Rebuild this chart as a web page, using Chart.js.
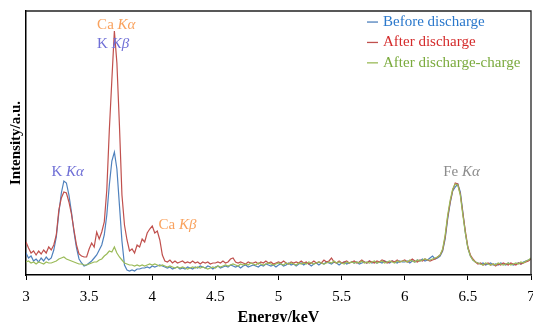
<!DOCTYPE html>
<html lang="en">
<head>
<meta charset="utf-8"/>
<title>EDS spectra</title>
<script src="https://cdn.jsdelivr.net/npm/chart.js"></script>
<style>
  html, body { margin: 0; padding: 0; background: #fff; overflow: hidden; }
  canvas { display: block; }
</style>
</head>
<body>
<canvas id="spectrum" width="533" height="327"></canvas>
<script>
  // energy grid (keV)
  const energy = [
    3.00, 3.02, 3.04, 3.06, 3.08, 3.10, 3.12, 3.14, 3.16, 3.18,
    3.20, 3.22, 3.24, 3.26, 3.28, 3.30, 3.32, 3.34, 3.36, 3.38,
    3.40, 3.42, 3.44, 3.46, 3.48, 3.50, 3.52, 3.54, 3.56, 3.58,
    3.60, 3.62, 3.64, 3.66, 3.68, 3.70, 3.72, 3.74, 3.76, 3.78,
    3.80, 3.82, 3.84, 3.86, 3.88, 3.90, 3.92, 3.94, 3.96, 3.98,
    4.00, 4.02, 4.04, 4.06, 4.08, 4.10, 4.12, 4.14, 4.16, 4.18,
    4.20, 4.22, 4.24, 4.26, 4.28, 4.30, 4.32, 4.34, 4.36, 4.38,
    4.40, 4.42, 4.44, 4.46, 4.48, 4.50, 4.52, 4.54, 4.56, 4.58,
    4.60, 4.62, 4.64, 4.66, 4.68, 4.70, 4.72, 4.74, 4.76, 4.78,
    4.80, 4.82, 4.84, 4.86, 4.88, 4.90, 4.92, 4.94, 4.96, 4.98,
    5.00, 5.02, 5.04, 5.06, 5.08, 5.10, 5.12, 5.14, 5.16, 5.18,
    5.20, 5.22, 5.24, 5.26, 5.28, 5.30, 5.32, 5.34, 5.36, 5.38,
    5.40, 5.42, 5.44, 5.46, 5.48, 5.50, 5.52, 5.54, 5.56, 5.58,
    5.60, 5.62, 5.64, 5.66, 5.68, 5.70, 5.72, 5.74, 5.76, 5.78,
    5.80, 5.82, 5.84, 5.86, 5.88, 5.90, 5.92, 5.94, 5.96, 5.98,
    6.00, 6.02, 6.04, 6.06, 6.08, 6.10, 6.12, 6.14, 6.16, 6.18,
    6.20, 6.22, 6.24, 6.26, 6.28, 6.30, 6.32, 6.34, 6.36, 6.38,
    6.40, 6.42, 6.44, 6.46, 6.48, 6.50, 6.52, 6.54, 6.56, 6.58,
    6.60, 6.62, 6.64, 6.66, 6.68, 6.70, 6.72, 6.74, 6.76, 6.78,
    6.80, 6.82, 6.84, 6.86, 6.88, 6.90, 6.92, 6.94, 6.96, 6.98,
    7.00
  ];

  const beforeDischarge = [
    22, 17, 19, 14, 16, 13, 17, 14, 18, 15,
    17, 25, 38, 62, 82, 94, 92, 80, 63, 43,
    27, 16, 12, 9, 10, 12, 14, 17, 20, 25,
    30, 40, 60, 90, 114, 123, 106, 70, 34, 10,
    5, 4, 5, 4, 6, 6, 7, 7, 8, 7,
    9, 8, 9, 10, 9, 8, 7, 8, 6, 7,
    8, 6, 7, 6, 8, 7, 6, 8, 7, 9,
    8, 7, 9, 8, 6, 8, 9, 7, 8, 9,
    8, 10, 9, 8, 9, 7, 9, 10, 8, 9,
    10, 9, 8, 10, 9, 11, 10, 9, 10, 8,
    10, 11, 9, 10, 12, 10, 11, 9, 11, 12,
    10, 12, 11, 9, 11, 12, 10, 12, 11, 13,
    12, 11, 13, 12, 10, 12, 13, 11, 12, 13,
    12, 13, 11, 12, 13, 12, 14, 12, 13, 12,
    13, 12, 14, 13, 12, 14, 13, 12, 14, 13,
    13, 14, 12, 14, 13, 15, 14, 16, 14, 15,
    17, 19, 16, 17, 19, 24, 36, 56, 72, 84,
    88, 91, 83, 63, 42, 27, 19, 15, 13, 12,
    11, 12, 10, 11, 12, 10, 11, 10, 12, 11,
    10, 12, 11, 10, 11, 12, 11, 13, 14, 15,
    16
  ];

  const afterDischarge = [
    33, 27, 22, 24, 20, 24, 21, 25, 22, 28,
    25, 30, 40, 65, 77, 83, 82, 73, 61, 45,
    30, 21, 19, 18, 18, 26, 32, 28, 43, 36,
    43, 53, 85, 145, 195, 244, 212, 150, 80, 50,
    35, 24, 26, 22, 30, 28, 36, 33, 42, 46,
    49, 42, 44, 35, 20, 14, 13, 15, 12, 14,
    12, 13, 14, 12, 13, 12, 14, 12, 13, 11,
    13, 12, 13, 11, 12, 12, 13, 12, 14, 12,
    13, 16, 17, 13, 12, 13, 12, 11, 13, 12,
    12, 13, 11, 13, 12, 14, 12, 13, 11, 12,
    13, 12, 14, 12, 11, 13, 12, 13, 12, 14,
    12, 13, 11, 12, 14, 12, 13, 12, 15, 13,
    14, 17, 13, 12, 14, 12, 13, 14, 12, 13,
    14, 12, 13, 15, 13, 12, 14, 13, 12, 14,
    13, 15, 14, 12, 13, 14, 13, 15, 13, 14,
    15, 13, 14, 16, 14, 13, 15, 14, 16, 15,
    14, 15, 16, 18, 20, 25, 38, 58, 73, 85,
    92, 91, 81, 62, 44, 28, 20, 16, 13, 11,
    12, 10, 11, 12, 10, 11, 9, 11, 10, 12,
    11, 10, 12, 11, 10, 12, 11, 12, 13, 14,
    16
  ];

  const afterCharge = [
    13, 14, 12, 13, 11, 13, 12, 11, 13, 12,
    12, 13, 14, 16, 17, 18, 16, 15, 14, 13,
    12, 11, 11, 10, 10, 11, 12, 13, 13, 15,
    16, 19, 21, 24, 23, 28, 22, 18, 15, 12,
    11, 10, 10, 9, 10, 9, 10, 9, 10, 11,
    10, 11, 10, 9, 10, 9, 8, 9, 8, 7,
    8, 7, 8, 7, 6, 7, 8, 7, 8, 7,
    8, 7, 6, 7, 8, 7, 9, 8, 9, 10,
    9, 10, 11, 10, 9, 11, 10, 11, 10, 12,
    11, 10, 12, 11, 10, 11, 12, 11, 10, 11,
    12, 11, 10, 12, 11, 12, 11, 10, 12, 11,
    12, 11, 13, 12, 11, 12, 13, 12, 11, 12,
    13, 12, 14, 12, 13, 12, 11, 13, 12, 13,
    12, 13, 12, 14, 12, 13, 12, 13, 14, 12,
    13, 14, 12, 13, 14, 13, 12, 14, 13, 14,
    14, 13, 15, 14, 13, 15, 14, 15, 16, 15,
    15, 16, 17, 18, 20, 26, 40, 60, 75, 86,
    91, 90, 80, 60, 42, 27, 19, 15, 13, 12,
    11, 10, 12, 11, 10, 11, 10, 12, 11, 10,
    11, 12, 10, 11, 12, 11, 13, 12, 14, 15,
    17
  ];

  const seriesNames = ['Before discharge', 'After discharge', 'After discharge-charge'];
  const lineColors = ['#4f81bd', '#c0504d', '#9bbb59'];
  const textColors = ['#2a78cc', '#d42a2a', '#7aaa3c'];
  const xTicks = [3, 3.5, 4, 4.5, 5, 5.5, 6, 6.5, 7];

  // peak labels: element, line (italic), where they sit
  const peakElem = ['Ca ', 'K ', 'K ', 'Ca ', 'Fe '];
  const peakLine = ['Kα', 'Kβ', 'Kα', 'Kβ', 'Kα'];
  const peakEnergy = [3.715, 3.69, 3.33, 4.2, 6.45];
  const peakHeight = [250, 231, 103, 50, 103];
  const peakColors = ['#f9a25e', '#6f6fd6', '#6f6fd6', '#f9a25e', '#8c8c8c'];

  const FONT = '"Liberation Serif", "Times New Roman", serif';

  const series = [beforeDischarge, afterDischarge, afterCharge];

  const extras = {
    id: 'extras',
    afterDatasetsDraw(chart) {
      const { ctx, chartArea: a, scales: { x, y } } = chart;
      ctx.save();
      // top + right frame
      ctx.strokeStyle = '#222';
      ctx.lineWidth = 1.3;
      ctx.beginPath();
      ctx.moveTo(a.left, a.top);
      ctx.lineTo(a.right, a.top);
      ctx.lineTo(a.right, a.bottom);
      ctx.stroke();

      // peak names
      ctx.textBaseline = 'middle';
      ctx.textAlign = 'left';
      peakElem.forEach((el, i) => {
        ctx.font = '15px ' + FONT;
        const w1 = ctx.measureText(el).width;
        ctx.font = 'italic 15px ' + FONT;
        const w2 = ctx.measureText(peakLine[i]).width;
        const px = x.getPixelForValue(peakEnergy[i]) - (w1 + w2) / 2;
        const py = y.getPixelForValue(peakHeight[i]);
        ctx.fillStyle = peakColors[i];
        ctx.font = '15px ' + FONT;
        ctx.fillText(el, px, py);
        ctx.font = 'italic 15px ' + FONT;
        ctx.fillText(peakLine[i], px + w1, py);
      });

      // legend
      ctx.font = '15px ' + FONT;
      seriesNames.forEach((name, i) => {
        const ly = a.top + 11 + i * 20.4;
        ctx.fillStyle = lineColors[i];
        ctx.fillRect(367, ly - 0.6, 11, 1.3);
        ctx.fillStyle = textColors[i];
        ctx.fillText(name, 383, ly);
      });
      ctx.restore();
    }
  };

  new Chart(document.getElementById('spectrum'), {
    type: 'line',
    data: {
      datasets: series.map((vals, i) => ({
        label: seriesNames[i],
        data: energy.map((e, k) => ({ x: e, y: vals[k] })),
        borderColor: lineColors[i],
        borderWidth: 1.2,
        pointRadius: 0,
        tension: 0,
        fill: false,
        order: 3 - i
      }))
    },
    options: {
      responsive: false,
      animation: false,
      events: [],
      layout: { padding: { top: 11, right: 2, left: 0, bottom: 0 } },
      plugins: { legend: { display: false }, tooltip: { enabled: false } },
      scales: {
        x: {
          type: 'linear',
          min: 3,
          max: 7,
          afterBuildTicks: s => { s.ticks = xTicks.map(v => ({ value: v })); },
          afterFit: s => { s.height = 52; s.paddingLeft = 0; s.paddingRight = 0; },
          ticks: {
            font: { family: FONT, size: 15 },
            color: '#000',
            padding: 8.5,
            maxRotation: 0,
            autoSkip: false,
            callback: v => String(v)
          },
          grid: { drawOnChartArea: false, drawTicks: true, tickLength: 5, color: '#000', tickColor: '#000' },
          border: { color: '#000', width: 1.5 },
          title: {
            display: true,
            text: 'Energy/keV',
            color: '#000',
            font: { family: FONT, size: 16, weight: 'bold' },
            padding: { top: 1, bottom: 0 }
          }
        },
        y: {
          min: 0,
          max: 264,
          ticks: { display: false },
          grid: { display: false, drawTicks: false },
          border: { color: '#000', width: 1.5 },
          title: {
            display: true,
            text: 'Intensity/a.u.',
            color: '#000',
            font: { family: FONT, size: 15, weight: 'bold' },
            padding: { top: 7.5, bottom: 0.5 }
          }
        }
      }
    },
    plugins: [extras]
  });
</script>
</body>
</html>
